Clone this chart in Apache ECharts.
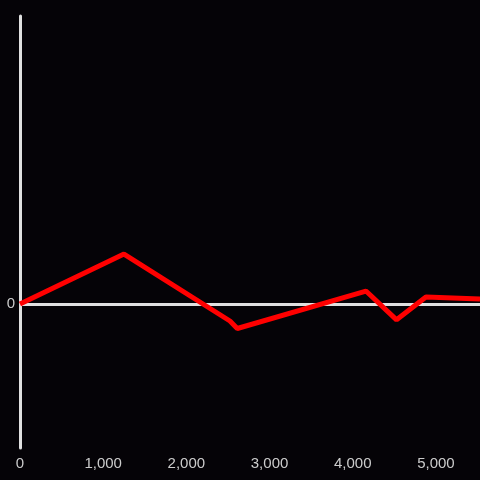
<!DOCTYPE html>
<html>
<head>
<meta charset="utf-8">
<script src="https://cdn.jsdelivr.net/npm/echarts@6/dist/echarts.min.js"></script>
<style>
html,body{margin:0;padding:0;background:#050307;}
#chart{width:480px;height:480px;}
</style>
</head>
<body>
<div id="chart"></div>
<script>
var xValues = [0, 1250, 2524, 2612, 4159, 4527, 4880, 5530];
var yValues = [0, 0.347, -0.118, -0.17, 0.09, -0.11, 0.049, 0.035];
var xTicks = [0, 1000, 2000, 3000, 4000, 5000];
var yTicks = [0];

var chart = echarts.init(document.getElementById('chart'));
var data = xValues.map(function(x, i){ return [x, yValues[i]]; });
chart.setOption({
  backgroundColor: '#050307',
  animation: false,
  grid: {left: 20, right: 0, top: 16, bottom: 32},
  xAxis: {
    type: 'value', min: 0, max: 5530, interval: 1000,
    axisLine: {show: false},
    axisTick: {show: false},
    splitLine: {show: false},
    axisLabel: {
      color: '#cccccc', fontSize: 15, fontFamily: 'Liberation Sans, Arial, sans-serif', margin: 8,
      showMaxLabel: false,
      formatter: function(v){ return xTicks.indexOf(v) >= 0 ? v.toLocaleString('en-US') : ''; }
    }
  },
  yAxis: {
    type: 'value', min: -1, max: 2, interval: 1,
    axisLine: {show: true, onZero: false, lineStyle: {color: '#e0e0e0', width: 3}},
    axisTick: {show: false},
    splitLine: {show: false},
    axisLabel: {
      color: '#cccccc', fontSize: 15, fontFamily: 'Liberation Sans, Arial, sans-serif', margin: 5,
      formatter: function(v){ return yTicks.indexOf(v) >= 0 ? String(v) : ''; }
    }
  },
  series: [{
    type: 'line',
    data: data,
    symbol: 'none',
    lineStyle: {color: '#ff0000', width: 5},
    z: 3,
    markLine: {
      silent: true, symbol: 'none', label: {show: false},
      lineStyle: {color: '#e0e0e0', width: 3, type: 'solid'},
      data: [{yAxis: 0}],
      z: 2
    }
  }]
});
</script>
</body>
</html>
